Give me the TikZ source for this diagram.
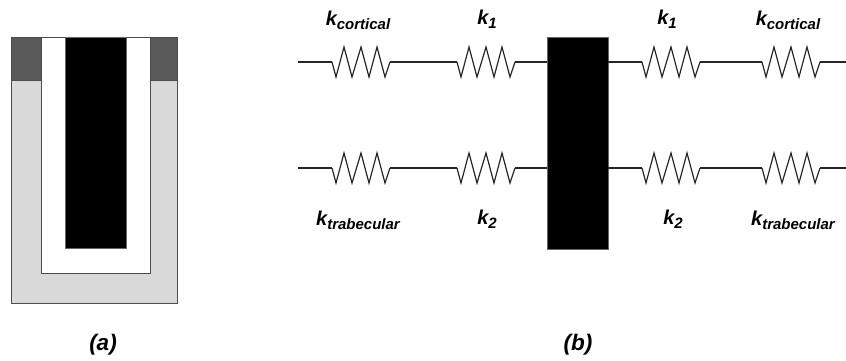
\documentclass[tikz,border=0pt]{standalone}
\usepackage{fontspec}
\setmainfont{Liberation Sans}
\usetikzlibrary{calc}

\tikzset{
  wire/.style={line width=1.2pt, black!85},
  outline/.style={draw=black!70, line width=0.9pt},
  label/.style={font=\bfseries\itshape\fontsize{20}{22}\selectfont, inner sep=0pt},
  caption/.style={font=\bfseries\itshape\fontsize{22.5}{24}\selectfont, inner sep=0pt},
  block/.style={fill=black, draw=black!60, line width=0.5pt, minimum width=61pt, minimum height=212pt, inner sep=0pt},
  spring/.pic={
    \coordinate (-in) at (0,0);
    \coordinate (-out) at (58,0);
    \draw [wire, line join=miter] (-in) -- (4,15) -- (12,-15) -- (20,15) -- (29,-15)
      -- (37,15) -- (45,-15) -- (53,15) -- (-out);
  }
}
\newcommand{\ksub}[1]{k\raisebox{-4pt}{\fontsize{15}{16}\selectfont #1}}

\begin{document}
\begin{tikzpicture}[x=1pt,y=-1pt]

\useasboundingbox (0,0) rectangle (846,360);

% (a)
\path [outline, fill=black!15] (11,80) rectangle (177,303);
\path [outline, fill=black!65] (11,37) rectangle (41,80);
\path [outline, fill=black!65] (150,37) rectangle (177,80);
\path [outline, fill=white] (41,37) rectangle (150,273);
\path [fill=black, draw=black!60, line width=0.5pt] (65,37) rectangle (126,248);

\node [caption] (capa) at (103,345) {(a)};

% (b)
\node [block] (implant) at (577.5,143) {};

\coordinate (top l) at (298,62);
\coordinate (top r) at (846,62);
\coordinate (bot l) at (298,168);
\coordinate (bot r) at (846,168);

\pic (s1) at (332,62) {spring};
\pic (s2) at (457,62) {spring};
\pic (s3) at (642,62) {spring};
\pic (s4) at (762,62) {spring};
\pic (s5) at (332,168) {spring};
\pic (s6) at (457,168) {spring};
\pic (s7) at (642,168) {spring};
\pic (s8) at (762,168) {spring};

\draw [wire] (top l) -- (s1-in);
\draw [wire] (s1-out) -- (s2-in);
\draw [wire] (s2-out) -- (s2-out -| implant.west);
\draw [wire] (s3-in -| implant.east) -- (s3-in);
\draw [wire] (s3-out) -- (s4-in);
\draw [wire] (s4-out) -- (top r);

\draw [wire] (bot l) -- (s5-in);
\draw [wire] (s5-out) -- (s6-in);
\draw [wire] (s6-out) -- (s6-out -| implant.west);
\draw [wire] (s7-in -| implant.east) -- (s7-in);
\draw [wire] (s7-out) -- (s8-in);
\draw [wire] (s8-out) -- (bot r);

\node [label] (k cort l) at (358,20) {\ksub{cortical}};
\node [label] (k one l) at (487,19) {\ksub{1}};
\node [label] (k one r) at (667,19) {\ksub{1}};
\node [label] (k cort r) at (788,20) {\ksub{cortical}};
\node [label] (k trab l) at (358,220) {\ksub{trabecular}};
\node [label] (k two l) at (487,219) {\ksub{2}};
\node [label] (k two r) at (673,219) {\ksub{2}};
\node [label] (k trab r) at (793,220) {\ksub{trabecular}};

\node [caption] (capb) at (578,345) {(b)};

\end{tikzpicture}
\end{document}
